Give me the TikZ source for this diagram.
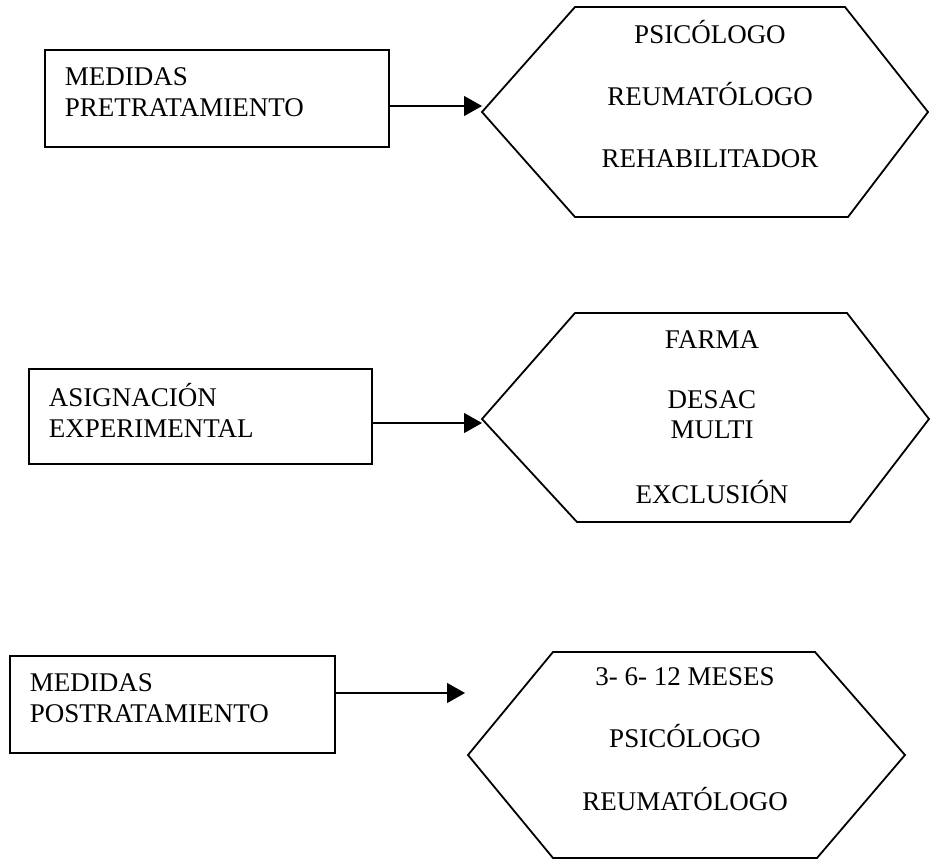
\documentclass[tikz,border=0pt]{standalone}
\usepackage{fontspec}
\setmainfont{Liberation Serif}
\usetikzlibrary{arrows.meta}
\newcommand\tam{\fontsize{27}{31}\selectfont}
\newcommand\bajo{\rule[-12pt]{0pt}{0pt}} % extra depth, lifts box text

\begin{document}
\begin{tikzpicture}[x=1pt,y=-1pt,
  caja/.style={draw, line width=1.8pt, rectangle, anchor=north west, align=left,
    inner xsep=20pt, inner ysep=0pt, font=\tam},
  rotulo/.style={anchor=base, inner sep=0pt, font=\tam},
  flecha/.style={line width=1.3pt, -{Triangle[length=18pt,width=20pt]}},
  hexa/.style={line width=1.8pt, line join=miter}]
\useasboundingbox (0,0) rectangle (930,860);

% Stage 1: pretreatment measures
\node[caja, text width=304pt, minimum height=97pt] (pre) at (44,49) {MEDIDAS\\PRETRATAMIENTO\bajo};
\draw[hexa] (482,112) -- (575,7) -- (845,7) -- (928,112) -- (848,217) -- (575,217) -- cycle;
\node[rotulo] (psi1) at (710,43) {PSICÓLOGO};
\node[rotulo] (reu1) at (710,105) {REUMATÓLOGO};
\node[rotulo] (reh1) at (710,167) {REHABILITADOR};
\coordinate (t1) at (482,106);
\draw[flecha] (pre.east |- t1) -- (t1);

% Stage 2: experimental assignment
\node[caja, text width=303pt, minimum height=95pt] (asig) at (28,368) {ASIGNACIÓN\\EXPERIMENTAL\bajo};
\draw[hexa] (482,419) -- (575,313) -- (847,313) -- (929,419) -- (850,522) -- (577,522) -- cycle;
\node[rotulo] (far) at (712,348) {FARMA};
\node[rotulo] (des) at (712,408) {DESAC};
\node[rotulo] (mul) at (712,438) {MULTI};
\node[rotulo] (exc) at (712,503) {EXCLUSIÓN};
\coordinate (t2) at (482,423);
\draw[flecha] (asig.east |- t2) -- (t2);

% Stage 3: post-treatment measures
\node[caja, text width=285pt, minimum height=97pt] (post) at (9,655) {MEDIDAS\\POSTRATAMIENTO\bajo};
\draw[hexa] (468,755) -- (553,652) -- (815,652) -- (905,755) -- (817,858) -- (553,858) -- cycle;
\node[rotulo] (mes) at (685,685) {3- 6- 12 MESES};
\node[rotulo] (psi3) at (685,747) {PSICÓLOGO};
\node[rotulo] (reu3) at (685,810) {REUMATÓLOGO};
\coordinate (t3) at (465,693);
\draw[flecha] (post.east |- t3) -- (t3);

\end{tikzpicture}
\end{document}
